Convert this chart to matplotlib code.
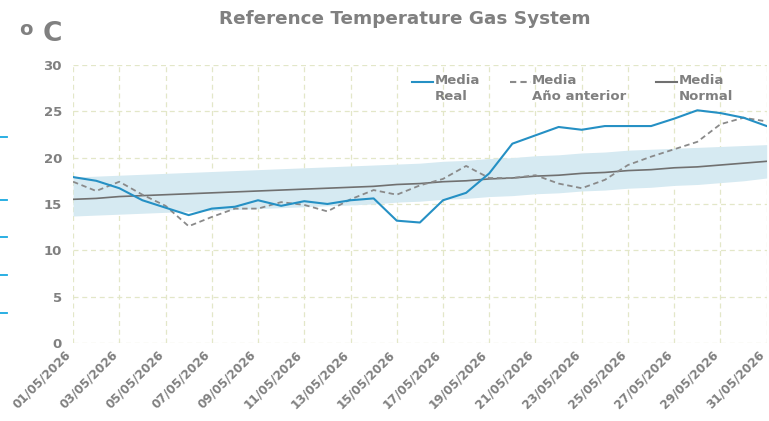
import matplotlib.pyplot as plt
from matplotlib.lines import Line2D
from matplotlib.transforms import ScaledTranslation

# datos (1-31 mayo 2026)
dias = list(range(1, 32))
etiquetas = ['%02d/05/2026' % d for d in dias]

media_real = [17.9, 17.5, 16.7, 15.4, 14.6, 13.8, 14.5, 14.7, 15.4, 14.8,
              15.3, 15.0, 15.4, 15.6, 13.2, 13.0, 15.4, 16.2, 18.3, 21.5,
              22.4, 23.3, 23.0, 23.4, 23.4, 23.4, 24.2, 25.1, 24.8, 24.3, 23.4]
media_anterior = [17.4, 16.4, 17.4, 16.0, 14.8, 12.6, 13.6, 14.5, 14.5, 15.2,
                  14.9, 14.2, 15.5, 16.5, 16.0, 17.0, 17.7, 19.1, 17.8, 17.8,
                  18.1, 17.2, 16.7, 17.6, 19.2, 20.1, 20.9, 21.7, 23.6, 24.3, 23.9]
media_normal = [15.5, 15.6, 15.8, 15.9, 16.0, 16.1, 16.2, 16.3, 16.4, 16.5,
                16.6, 16.7, 16.8, 16.9, 17.1, 17.2, 17.4, 17.5, 17.7, 17.8,
                18.0, 18.1, 18.3, 18.4, 18.6, 18.7, 18.9, 19.0, 19.2, 19.4, 19.6]
banda_inf = [13.7, 13.8, 13.9, 14.0, 14.1, 14.2, 14.3, 14.4, 14.5, 14.6,
             14.7, 14.8, 14.9, 15.0, 15.2, 15.3, 15.5, 15.6, 15.8, 15.9,
             16.1, 16.2, 16.4, 16.5, 16.7, 16.8, 17.0, 17.1, 17.3, 17.5, 17.8]
banda_sup = [17.9, 18.0, 18.1, 18.2, 18.3, 18.4, 18.5, 18.6, 18.7, 18.8,
             18.9, 19.0, 19.1, 19.2, 19.3, 19.4, 19.6, 19.7, 19.9, 20.0,
             20.2, 20.3, 20.5, 20.6, 20.8, 20.9, 21.0, 21.1, 21.2, 21.3, 21.4]

gris = '#808080'
azul = '#2590c4'
plt.rcParams['font.family'] = ['DejaVu Sans']

fig = plt.figure(figsize=(7.69, 4.21), dpi=100)
ax = fig.add_axes([0.095, 0.185, 0.902, 0.661])

ax.fill_between(dias, banda_inf, banda_sup, color='#d6eaf2', linewidth=0)
ax.plot(dias, media_normal, color='#707070', linewidth=1.2)
ax.plot(dias, media_anterior, color='#8a8a8a', linewidth=1.3, linestyle=(0, (3, 2)))
ax.plot(dias, media_real, color=azul, linewidth=1.5)

ax.set_xlim(1, 31)
ax.set_ylim(0, 30)
ax.set_yticks(range(0, 31, 5))
ax.set_xticks(dias[::2])
ax.set_xticklabels(etiquetas[::2], rotation=45, ha='right', va='center',
                   rotation_mode='anchor')
ax.tick_params(axis='y', length=0, colors=gris, labelsize=9.5, pad=8)
ax.tick_params(axis='x', length=0, colors=gris, labelsize=8.7, pad=7)
for lbl in ax.get_xticklabels() + ax.get_yticklabels():
    lbl.set_fontweight('bold')
for s in ax.spines.values():
    s.set_visible(False)
ax.grid(True, color='#e3e7c8', linestyle=(0, (4, 3)), linewidth=0.9)
ax.set_axisbelow(True)

# correr un poco las fechas hacia la izquierda para que la última no se corte
desplaza = ScaledTranslation(-4 / 100, 0, fig.dpi_scale_trans)
for tick in ax.xaxis.get_major_ticks():
    tick.label1.set_transform(tick.label1.get_transform() + desplaza)

fig.text(0.527, 0.955, 'Reference Temperature Gas System', ha='center', va='center',
         fontsize=13.2, fontweight='bold', color=gris)
fig.text(0.025, 0.952, 'o', ha='left', va='top', fontsize=14, fontweight='bold', color=gris)
fig.text(0.055, 0.920, 'C', ha='left', va='center', fontsize=19, fontweight='bold', color=gris)

# trazos cortados en el borde izquierdo
for yp in [137, 200, 237, 275, 313]:
    fig.add_artist(Line2D([0, 0.009], [1 - yp / 421] * 2, color='#19a9e0',
                          linewidth=1.3, transform=fig.transFigure))

# leyenda manual
ley = [('Media\nReal', azul, '-', 0.536),
       ('Media\nAño anterior', '#8a8a8a', (0, (3, 2)), 0.663),
       ('Media\nNormal', '#707070', '-', 0.853)]
for texto, col, ls, x0 in ley:
    fig.add_artist(Line2D([x0, x0 + 0.027], [0.805, 0.805], color=col, linestyle=ls,
                          linewidth=1.5, transform=fig.transFigure))
    fig.text(x0 + 0.029, 0.824, texto, ha='left', va='top', fontsize=9.5,
             fontweight='bold', color=gris, linespacing=1.3)

fig.savefig('out.png', dpi=100)
